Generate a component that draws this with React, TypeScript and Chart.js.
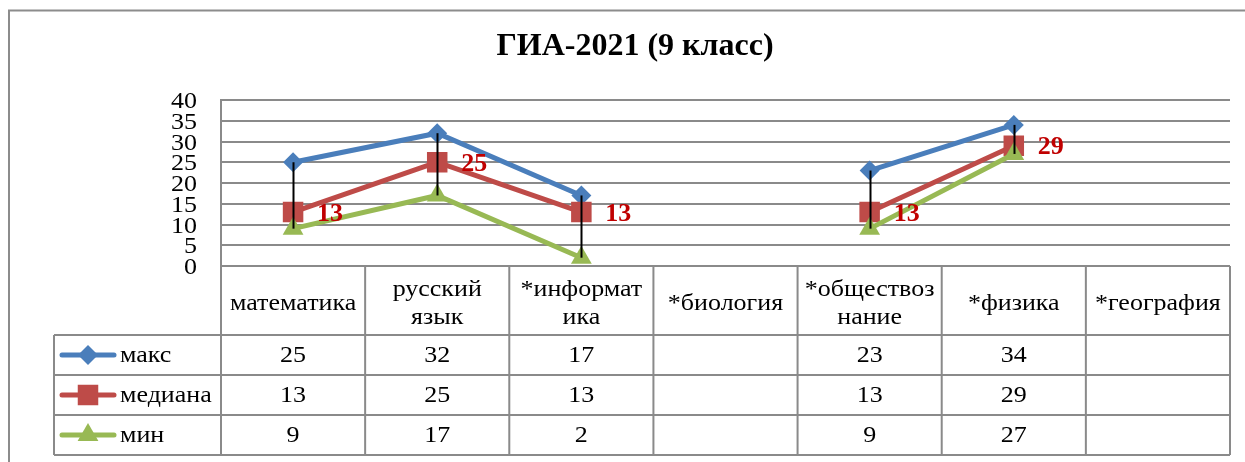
import React, { useEffect, useRef } from "react";
import { Chart, registerables } from "chart.js";

Chart.register(...registerables);

// ---------- data ----------
const title = "ГИА-2021 (9 класс)";
const categoryLines: string[][] = [
  ["математика"],
  ["русский", "язык"],
  ["*информат", "ика"],
  ["*биология"],
  ["*обществоз", "нание"],
  ["*физика"],
  ["*география"],
];
const seriesNames = ["макс", "медиана", "мин"];
const maxValues: (number | null)[] = [25, 32, 17, null, 23, 34, null];
const medianValues: (number | null)[] = [13, 25, 13, null, 13, 29, null];
const minValues: (number | null)[] = [9, 17, 2, null, 9, 27, null];
const yMin = 0;
const yMax = 40;
const yStep = 5;

// ---------- styles ----------
const BLUE = "#4A7EBB";
const RED = "#BE4B48";
const GREEN = "#98B954";
const GRID = "#8A8A8A";
const LABEL_RED = "#C00000";
const SERIF = "'Liberation Serif', 'Times New Roman', serif";
const TEXT_FONT = `23px ${SERIF}`;
const STRETCH = 1.13;

const seriesColors = [BLUE, RED, GREEN];
const seriesStyles: any[] = ["rectRot", "rect", "triangle"];
const seriesRadius = [10, 14.5, 12];
const seriesValues = [maxValues, medianValues, minValues];

const HEADER_TOP = 266;
const HEADER_BOTTOM = 335;
const ROW_H = 40;
const LEGEND_LEFT = 54;

function stretchedText(ctx: CanvasRenderingContext2D, t: string, x: number, y: number, align: CanvasTextAlign) {
  ctx.save();
  ctx.translate(x, y);
  ctx.scale(STRETCH, 1);
  ctx.textAlign = align;
  ctx.textBaseline = "middle";
  ctx.fillText(t, 0, 0);
  ctx.restore();
}

function drawMarker(ctx: CanvasRenderingContext2D, style: string, x: number, y: number, r: number, color: string) {
  ctx.save();
  ctx.fillStyle = color;
  ctx.beginPath();
  if (style === "rectRot") {
    ctx.moveTo(x, y - r);
    ctx.lineTo(x + r, y);
    ctx.lineTo(x, y + r);
    ctx.lineTo(x - r, y);
    ctx.closePath();
  } else if (style === "rect") {
    const s = r * Math.SQRT1_2;
    ctx.rect(x - s, y - s, 2 * s, 2 * s);
  } else {
    const h = r * 1.5;
    const w = r * Math.sqrt(3);
    ctx.moveTo(x, y - r);
    ctx.lineTo(x + w / 2, y - r + h);
    ctx.lineTo(x - w / 2, y - r + h);
    ctx.closePath();
  }
  ctx.fill();
  ctx.restore();
}

const framePlugin = {
  id: "frame",
  beforeDraw(chart: any) {
    const ctx = chart.ctx as CanvasRenderingContext2D;
    ctx.save();
    ctx.fillStyle = "#ffffff";
    ctx.fillRect(0, 0, chart.width, chart.height);
    ctx.strokeStyle = "#8C8C8C";
    ctx.lineWidth = 2;
    ctx.strokeRect(9, 10.5, chart.width + 40, chart.height + 40);
    // title
    ctx.fillStyle = "#000000";
    ctx.font = `bold 32px ${SERIF}`;
    ctx.textAlign = "center";
    ctx.textBaseline = "middle";
    ctx.fillText(title, 635, 47);
    ctx.restore();
  },
};

const overlayPlugin = {
  id: "overlay",
  afterDatasetsDraw(chart: any) {
    const ctx = chart.ctx as CanvasRenderingContext2D;
    const x = chart.scales.x;
    const y = chart.scales.y;
    ctx.save();
    // high-low lines
    ctx.strokeStyle = "#000000";
    ctx.lineWidth = 2;
    for (let i = 0; i < categoryLines.length; i++) {
      const hi = maxValues[i];
      const lo = minValues[i];
      if (hi == null || lo == null) continue;
      const px = Math.round(x.getPixelForValue(i)) + 0.5;
      ctx.beginPath();
      ctx.moveTo(px, y.getPixelForValue(hi));
      ctx.lineTo(px, y.getPixelForValue(lo));
      ctx.stroke();
    }
    // median data labels
    ctx.fillStyle = LABEL_RED;
    ctx.font = `bold 26px ${SERIF}`;
    ctx.textAlign = "left";
    ctx.textBaseline = "middle";
    for (let i = 0; i < medianValues.length; i++) {
      const v = medianValues[i];
      if (v == null) continue;
      ctx.fillText(String(v), x.getPixelForValue(i) + 24, y.getPixelForValue(v) + 2);
    }
    ctx.restore();
  },
  afterDraw(chart: any) {
    const ctx = chart.ctx as CanvasRenderingContext2D;
    const x = chart.scales.x;
    const y = chart.scales.y;
    const area = chart.chartArea;
    const n = categoryLines.length;
    const half = (x.getPixelForValue(1) - x.getPixelForValue(0)) / 2;
    const tableBottom = HEADER_BOTTOM + ROW_H * seriesNames.length;
    ctx.save();
    ctx.strokeStyle = GRID;
    ctx.lineWidth = 2;
    // horizontal lines
    ctx.beginPath();
    ctx.moveTo(area.left, HEADER_TOP);
    ctx.lineTo(area.right, HEADER_TOP);
    for (let r = 0; r <= seriesNames.length; r++) {
      const yy = HEADER_BOTTOM + r * ROW_H;
      ctx.moveTo(LEGEND_LEFT, yy);
      ctx.lineTo(area.right, yy);
    }
    // vertical lines
    ctx.moveTo(LEGEND_LEFT, HEADER_BOTTOM);
    ctx.lineTo(LEGEND_LEFT, tableBottom);
    ctx.moveTo(area.left, area.top);
    ctx.lineTo(area.left, tableBottom);
    for (let i = 0; i < n; i++) {
      const bx = x.getPixelForValue(i) + half;
      ctx.moveTo(bx, HEADER_TOP);
      ctx.lineTo(bx, tableBottom);
    }
    ctx.stroke();

    ctx.fillStyle = "#000000";
    ctx.font = TEXT_FONT;

    // y tick labels
    for (let v = yMin; v <= yMax; v += yStep) {
      stretchedText(ctx, String(v), 197, y.getPixelForValue(v) + 2, "right");
    }

    // header text
    const headerMid = (HEADER_TOP + HEADER_BOTTOM) / 2 + 3;
    const lh = 28;
    for (let i = 0; i < n; i++) {
      const lines = categoryLines[i];
      const cx = x.getPixelForValue(i);
      const start = headerMid - ((lines.length - 1) * lh) / 2;
      lines.forEach((t, k) => stretchedText(ctx, t, cx, start + k * lh, "center"));
    }
    // rows
    for (let s = 0; s < seriesNames.length; s++) {
      const cy = HEADER_BOTTOM + s * ROW_H + ROW_H / 2;
      // legend key
      ctx.save();
      ctx.strokeStyle = seriesColors[s];
      ctx.lineWidth = 5;
      ctx.lineCap = "round";
      ctx.beginPath();
      ctx.moveTo(62, cy);
      ctx.lineTo(114, cy);
      ctx.stroke();
      ctx.restore();
      drawMarker(ctx, seriesStyles[s], 88, cy, seriesRadius[s], seriesColors[s]);
      stretchedText(ctx, seriesNames[s], 120, cy + 1, "left");
      const vals = seriesValues[s];
      for (let i = 0; i < n; i++) {
        const v = vals[i];
        if (v == null) continue;
        stretchedText(ctx, String(v), x.getPixelForValue(i), cy + 1, "center");
      }
    }
    ctx.restore();
  },
};

export default function App() {
  const ref = useRef<HTMLCanvasElement | null>(null);
  useEffect(() => {
    if (!ref.current) return;
    const datasets = seriesNames.map((name, s) => ({
      label: name,
      data: seriesValues[s],
      borderColor: seriesColors[s],
      backgroundColor: seriesColors[s],
      borderWidth: 5,
      pointStyle: seriesStyles[s],
      pointRadius: seriesRadius[s],
      pointBorderWidth: 0,
      pointBackgroundColor: seriesColors[s],
      pointBorderColor: seriesColors[s],
      tension: 0,
      spanGaps: false,
      order: 3 - s,
    }));
    const chart = new Chart(ref.current, {
      type: "line",
      data: { labels: categoryLines.map((l) => l.join("")), datasets },
      options: {
        animation: false,
        responsive: false,
        devicePixelRatio: 1,
        layout: { padding: { top: 100, left: 0, right: 15, bottom: 196 } },
        plugins: {
          legend: { display: false },
          tooltip: { enabled: false },
          title: { display: false },
        },
        scales: {
          x: {
            type: "category",
            display: false,
            offset: true,
          },
          y: {
            min: yMin,
            max: yMax,
            afterFit: (scale: any) => {
              scale.width = 221;
            },
            ticks: {
              stepSize: yStep,
              display: false,
            },
            grid: { color: GRID, lineWidth: 2, drawTicks: false },
            border: { display: true, color: GRID, width: 2 },
          },
        },
      },
      plugins: [framePlugin, overlayPlugin],
    });
    return () => chart.destroy();
  }, []);
  return (
    <div style={{ position: "fixed", left: 0, top: 0, width: 1245, height: 462, background: "#fff" }}>
      <canvas ref={ref} width={1245} height={462} style={{ display: "block", width: 1245, height: 462 }} />
    </div>
  );
}
